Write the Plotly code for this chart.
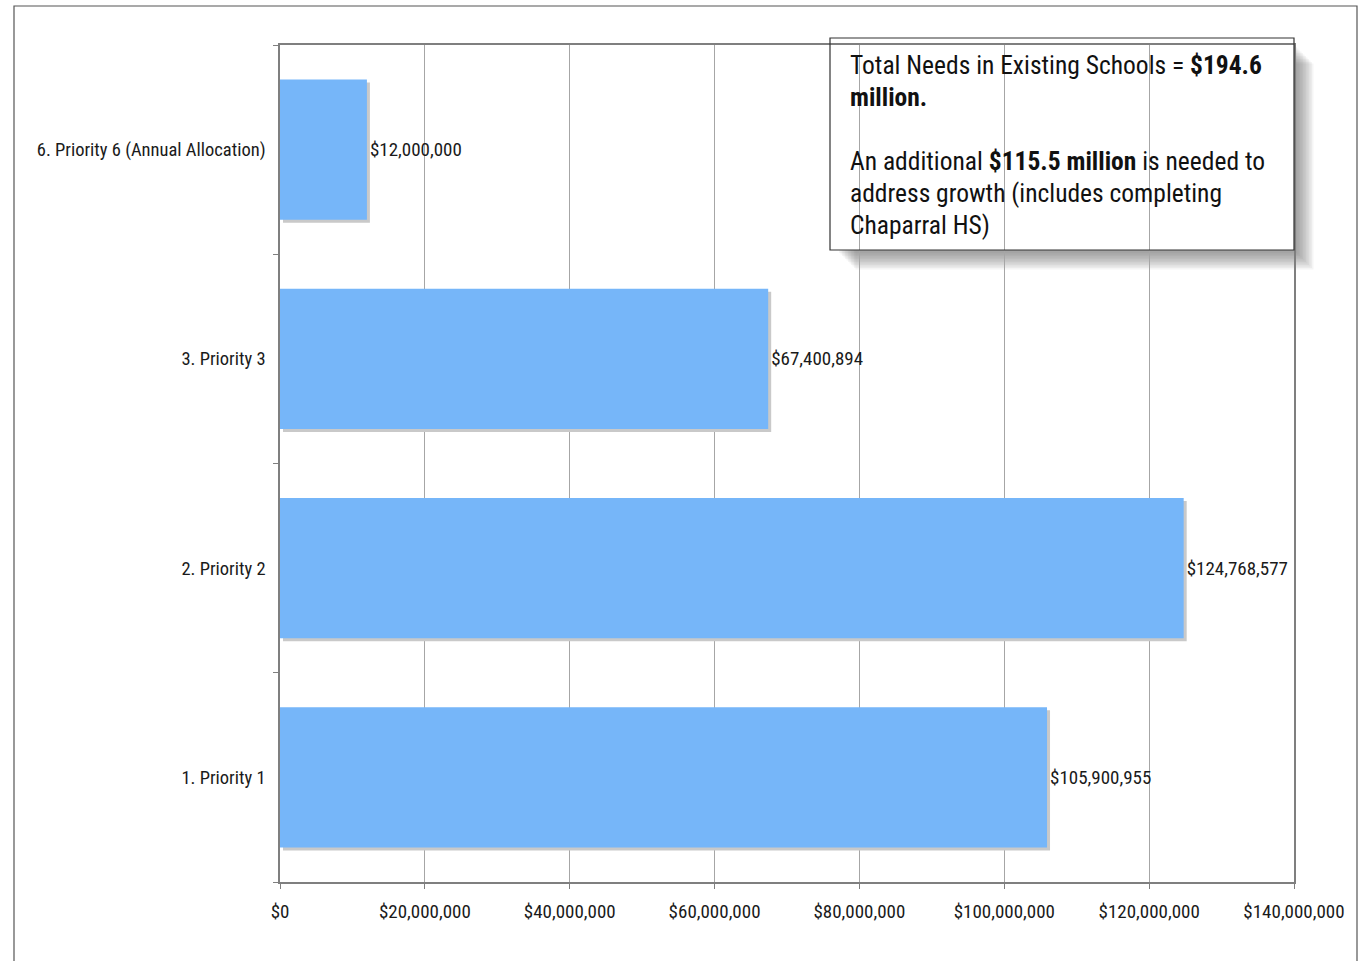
import plotly.graph_objects as go

categories = ["1. Priority 1", "2. Priority 2", "3. Priority 3", "6. Priority 6 (Annual Allocation)"]
amounts = [105900955, 124768577, 67400894, 12000000]
tick_values = [0, 20000000, 40000000, 60000000, 80000000, 100000000, 120000000, 140000000]
tick_labels = ["$0", "$20,000,000", "$40,000,000", "$60,000,000", "$80,000,000",
               "$100,000,000", "$120,000,000", "$140,000,000"]
note_lines = [
    "Total Needs in Existing Schools = <b>$194.6</b>",
    "<b>million.</b>",
    "",
    "An additional <b>$115.5 million</b> is needed to",
    "address growth (includes completing",
    "Chaparral HS)",
]

FONT = "Liberation Sans Narrow, Arial Narrow, Roboto Condensed, Arial, sans-serif"
W, H = 1360, 961
ML, MR, MT, MB = 280, 66, 45, 79
PW, PH = W - ML - MR, H - MT - MB
X_MAX = 140000000
BAR_W = 0.67
BAR_COLOR = "#76B6F9"
SHADOW_COLOR = "#c9c9c9"

# pixel offset of the drop shadow expressed in axis units
px_x = X_MAX / PW
px_y = len(categories) / PH
sdx = 3 * px_x
sdy = 3 * px_y


def px(x):
    return (x - ML) / PW


def py(y):
    return (H - MB - y) / PH


fig = go.Figure()

# drop shadow behind each bar
fig.add_trace(go.Bar(
    y=categories, x=amounts, base=sdx, orientation="h",
    width=BAR_W, offset=-BAR_W / 2 - sdy,
    marker=dict(color=SHADOW_COLOR, line=dict(width=0)),
    hoverinfo="skip", showlegend=False,
))

fig.add_trace(go.Bar(
    y=categories, x=amounts, orientation="h",
    width=BAR_W, offset=-BAR_W / 2,
    marker=dict(color=BAR_COLOR, line=dict(width=0)),
    texttemplate="$%{x:,.0f}", textposition="outside",
    textfont=dict(family=FONT, size=19, color="#1a1a1a"),
    cliponaxis=False, showlegend=False,
))

shapes = []
# outer frame of the chart
shapes.append(dict(type="rect", xref="paper", yref="paper",
                   x0=px(14), x1=px(1357), y0=py(975), y1=py(6),
                   line=dict(color="#555555", width=1.2), fillcolor="rgba(0,0,0,0)",
                   layer="below"))

# soft shadow of the note box
bx0, bx1, by0, by1 = 830, 1294, 38, 250
for i in range(12):
    off = 3 + i * 1.5
    shapes.append(dict(type="rect", xref="paper", yref="paper",
                       x0=px(bx0 + off + 6), x1=px(bx1 + off),
                       y0=py(by1 + off), y1=py(by0 + off + 6),
                       line=dict(width=0), fillcolor="rgba(90,90,90,0.06)",
                       layer="below"))
shapes.append(dict(type="rect", xref="paper", yref="paper",
                   x0=px(bx0), x1=px(bx1), y0=py(by1), y1=py(by0),
                   line=dict(width=0), fillcolor="white", layer="below"))
shapes.append(dict(type="rect", xref="paper", yref="paper",
                   x0=px(bx0), x1=px(bx1), y0=py(by1), y1=py(by0),
                   line=dict(color="#333333", width=1.2), fillcolor="rgba(0,0,0,0)",
                   layer="above"))

# note text, one annotation per line for an even 32px leading
annotations = []
for i, line in enumerate(note_lines):
    if not line:
        continue
    annotations.append(dict(
        xref="paper", yref="paper", x=px(848), y=py(65 + 32 * i),
        xanchor="left", yanchor="middle", align="left", showarrow=False,
        text=line, font=dict(family=FONT, size=25.5, color="#111111"),
    ))

fig.update_layout(
    width=W, height=H,
    margin=dict(l=ML, r=MR, t=MT, b=MB, pad=0),
    paper_bgcolor="white", plot_bgcolor="white",
    barmode="overlay",
    shapes=shapes,
    annotations=annotations,
    font=dict(family=FONT, size=19, color="#1a1a1a"),
)

fig.update_xaxes(
    range=[0, X_MAX], tickvals=tick_values, ticktext=tick_labels,
    showgrid=True, gridcolor="#a6a6a6", gridwidth=1,
    showline=True, linecolor="#7f7f7f", linewidth=1.5, mirror=True,
    ticks="outside", ticklen=5, tickcolor="#7f7f7f",
    ticklabelstandoff=6,
    tickfont=dict(family=FONT, size=19, color="#1a1a1a"),
    zeroline=False, fixedrange=True,
)
fig.update_yaxes(
    categoryorder="array", categoryarray=categories,
    range=[-0.5, len(categories) - 0.5],
    showgrid=False, showline=True, linecolor="#7f7f7f", linewidth=1.5, mirror=True,
    ticks="outside", ticklen=5, tickcolor="#7f7f7f", tickson="boundaries",
    ticklabelstandoff=9,
    tickfont=dict(family=FONT, size=18.5, color="#1a1a1a"),
    fixedrange=True,
)

fig.write_html("out.html")
